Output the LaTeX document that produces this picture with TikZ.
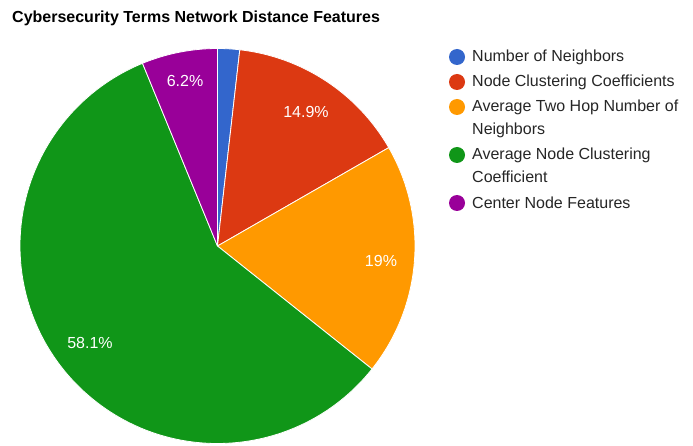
\documentclass[tikz,border=0pt]{standalone}
\usepackage{fontspec}
\setmainfont{Liberation Sans}
\definecolor{cblue}{HTML}{3366CC}
\definecolor{cred}{HTML}{DC3912}
\definecolor{corange}{HTML}{FF9900}
\definecolor{cgreen}{HTML}{109618}
\definecolor{cpurple}{HTML}{990099}
\begin{document}
\begin{tikzpicture}[x=1pt,y=1pt,
  slice/.style={fill=#1, draw=white, line width=0.8pt, line join=round},
  pct/.style={text=white, font=\fontsize{16}{18}\selectfont, inner sep=0pt},
  legdot/.style={circle, fill=#1, minimum size=16pt, inner sep=0pt},
  legtext/.style={anchor=west, align=left, inner sep=0pt, font=\fontsize{16}{23}\selectfont, text=black!85}]
\useasboundingbox (0,0) rectangle (693,445);
\fill[white] (0,0) rectangle (693,445);
% title
\node[anchor=west, inner sep=0pt, font=\bfseries\fontsize{16}{18}\selectfont] (title) at (12,427) {Cybersecurity Terms Network Distance Features};
% pie
\coordinate (c) at (217.5,199);
\def\R{197.5}
\draw[slice=cblue]   (c) -- ++(90:\R) arc[start angle=90, end angle=83.52, radius=\R] -- cycle;
\draw[slice=cred]    (c) -- ++(83.52:\R) arc[start angle=83.52, end angle=29.88, radius=\R] -- cycle;
\draw[slice=corange] (c) -- ++(29.88:\R) arc[start angle=29.88, end angle=-38.52, radius=\R] -- cycle;
\draw[slice=cgreen]  (c) -- ++(-38.52:\R) arc[start angle=-38.52, end angle=-247.68, radius=\R] -- cycle;
\draw[slice=cpurple] (c) -- ++(-247.68:\R) arc[start angle=-247.68, end angle=-270, radius=\R] -- cycle;
% percentages
\node[pct] (p2) at (306,333) {14.9\%};
\node[pct] (p3) at (381,184) {19\%};
\node[pct] (p4) at (90,102) {58.1\%};
\node[pct] (p5) at (185,364) {6.2\%};
% legend
\node[legdot=cblue]   (d1) at (457,388) {};
\node[legdot=cred]    (d2) at (457,363) {};
\node[legdot=corange] (d3) at (457,338) {};
\node[legdot=cgreen]  (d4) at (457,290) {};
\node[legdot=cpurple] (d5) at (457,242) {};
\node[legtext] (l1) at (472,388) {Number of Neighbors};
\node[legtext] (l2) at (472,363) {Node Clustering Coefficients};
\node[legtext, anchor=north west] (l3) at (472,345) {Average Two Hop Number of\\Neighbors};
\node[legtext, anchor=north west] (l4) at (472,297) {Average Node Clustering\\Coefficient};
\node[legtext] (l5) at (472,242) {Center Node Features};
\end{tikzpicture}
\end{document}
